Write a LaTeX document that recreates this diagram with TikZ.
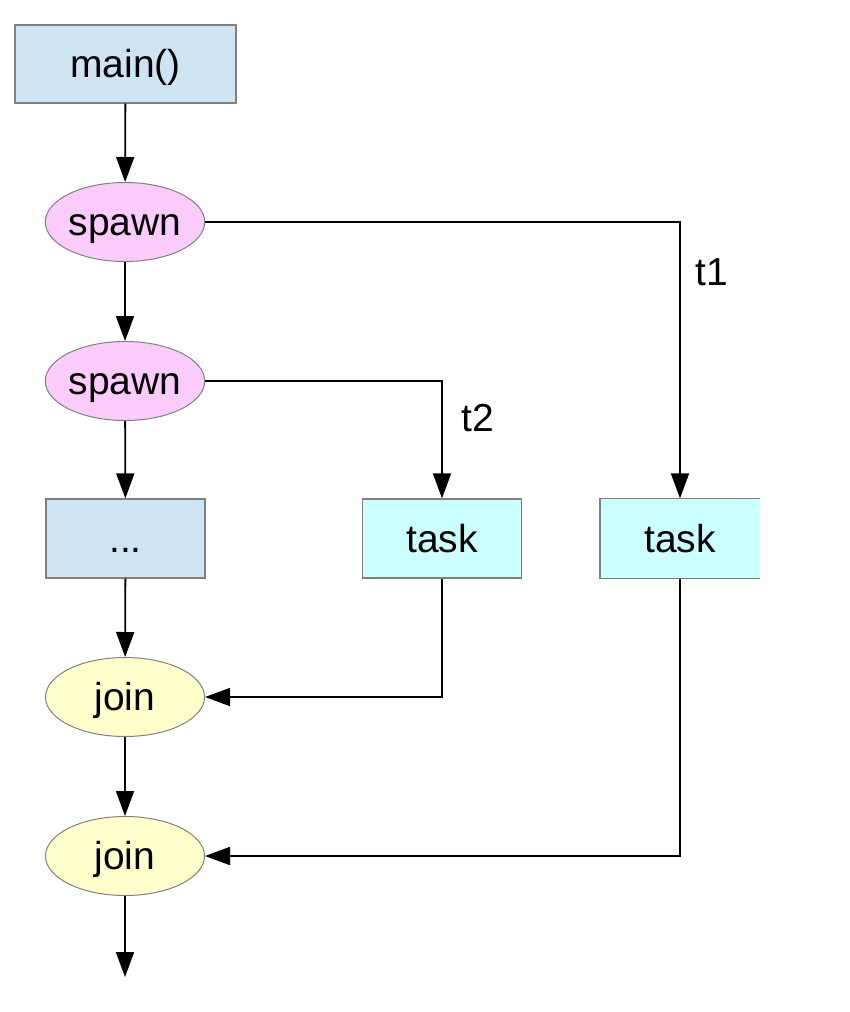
\documentclass[tikz,border=0pt]{standalone}
\usepackage{fontspec}
\setmainfont{Liberation Sans}
\usetikzlibrary{shapes.geometric,arrows.meta}
\definecolor{boxblue}{RGB}{207,228,243}
\definecolor{spawnpink}{RGB}{251,204,251}
\definecolor{taskcyan}{RGB}{204,255,255}
\definecolor{joinyellow}{RGB}{255,255,204}
\definecolor{bordergray}{RGB}{128,128,128}
\begin{document}
\begin{tikzpicture}[x=1pt,y=-1pt,
  lbl/.style={font=\fontsize{39}{44}\selectfont},
  shifted/.style={text height=30pt,text depth=3pt},
  rectbox/.style={rectangle,draw=bordergray,line width=1.3pt,minimum width=159pt,minimum height=79pt,inner sep=0pt,lbl,shifted},
  oval/.style={ellipse,draw=bordergray,line width=1pt,minimum width=159pt,minimum height=79pt,inner sep=0pt,lbl,shifted},
  conn/.style={line width=1.8pt,-{Triangle[width=18pt,length=25pt]}}]
\useasboundingbox (0,0) rectangle (849,1012);
\node[rectbox,fill=boxblue,minimum width=221pt,minimum height=78pt] (main) at (125.5,64) {main()};
\node[oval,fill=spawnpink] (sp1) at (125,222) {spawn};
\node[oval,fill=spawnpink] (sp2) at (125,381) {spawn};
\node[rectbox,fill=boxblue] (dots) at (125.5,538.5) {...};
\node[rectbox,fill=taskcyan] (task2) at (442,538.5) {task};
\node[rectbox,fill=taskcyan,draw=none] (task1) at (680,538.5) {task};
\draw[bordergray,line width=1.3pt] (task1.north east) -- (task1.north west) -- (task1.south west) -- (task1.south east);
\node[oval,fill=joinyellow] (j1) at (125,697) {join};
\node[oval,fill=joinyellow] (j2) at (125,856) {join};
\coordinate (end) at (125,977);
\node[lbl] (t1) at (712,272) {t1};
\node[lbl] (t2) at (478,418) {t2};
\draw[conn] (main) -- (sp1);
\draw[conn] (sp1) -- (sp2);
\draw[conn] (sp2) -- (dots);
\draw[conn] (dots) -- (j1);
\draw[conn] (j1) -- (j2);
\draw[conn] (j2) -- (end);
\draw[conn] (sp1.east) -| (task1.north);
\draw[conn] (sp2.east) -| (task2.north);
\draw[conn] (task2.south) |- (j1.east);
\draw[conn] (task1.south) |- (j2.east);
\end{tikzpicture}
\end{document}
